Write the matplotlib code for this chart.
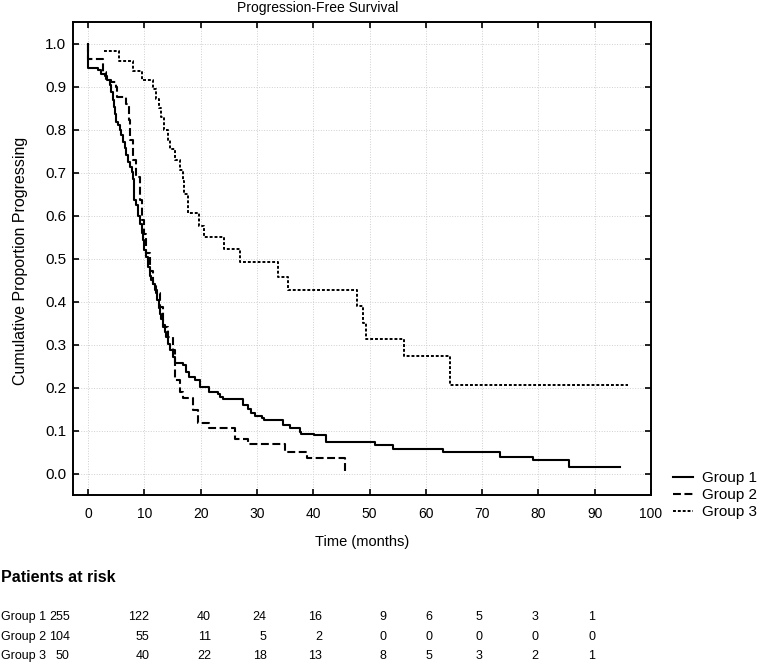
import matplotlib
matplotlib.use("Agg")
import matplotlib.pyplot as plt
import matplotlib.transforms as mtransforms

plt.rcParams['font.family'] = ['Liberation Sans', 'DejaVu Sans']

# ---------------- data ----------------
g1_time = [0, 0, 1.75, 2.3, 2.9, 3.4, 3.8, 4.1, 4.4, 4.6, 4.8, 5.0, 5.3, 5.6, 5.9, 6.2,
           6.5, 6.8, 7.1, 7.4, 7.7, 7.9, 8.05, 8.1, 8.55, 8.9, 9.15, 9.5, 9.74, 10.0,
           10.2, 10.6, 11.0, 11.2, 11.5, 11.8, 12.2, 12.5, 12.7, 13.0, 13.3, 13.6,
           13.9, 14.2, 14.6, 15.1, 15.5, 16.8, 17.4, 17.9, 18.9, 19.8, 21.5, 23.1,
           23.4, 23.9, 27.5, 28.4, 29.0, 29.6, 30.8, 31.3, 34.7, 35.8, 37.6, 37.9,
           40.2, 42.2, 50.9, 54.1, 63.0, 73.2, 79.1, 85.5, 94.5]
g1_surv = [1.0, 0.943, 0.938, 0.930, 0.925, 0.915, 0.903, 0.888, 0.869, 0.853, 0.837,
           0.818, 0.810, 0.798, 0.787, 0.771, 0.756, 0.740, 0.725, 0.713, 0.702, 0.686,
           0.660, 0.636, 0.624, 0.600, 0.581, 0.560, 0.543, 0.520, 0.504, 0.480, 0.460,
           0.450, 0.440, 0.426, 0.403, 0.385, 0.372, 0.360, 0.345, 0.330, 0.318, 0.302,
           0.287, 0.271, 0.256, 0.252, 0.236, 0.225, 0.217, 0.201, 0.190, 0.186, 0.178,
           0.174, 0.159, 0.151, 0.140, 0.133, 0.128, 0.124, 0.112, 0.105, 0.097, 0.093,
           0.089, 0.074, 0.066, 0.058, 0.050, 0.039, 0.031, 0.015, 0.015]

g2_time = [0, 0, 2.6, 3.2, 4.1, 5.0, 5.1, 6.8, 7.25, 7.5, 7.96, 8.56, 9.15, 9.6, 10.0,
           10.3, 10.9, 11.5, 12.1, 12.7, 13.3, 14.2, 15.1, 15.4, 16.3, 16.8, 18.6,
           19.5, 21.5, 26.0, 28.4, 34.9, 38.9, 45.7]
g2_surv = [1.0, 0.963, 0.934, 0.915, 0.910, 0.899, 0.876, 0.860, 0.822, 0.775, 0.729,
           0.690, 0.636, 0.589, 0.558, 0.512, 0.470, 0.440, 0.419, 0.387, 0.341, 0.318,
           0.287, 0.217, 0.190, 0.176, 0.147, 0.118, 0.106, 0.081, 0.068, 0.050, 0.035,
           0.0]

g3_time = [2.8, 5.5, 8.0, 9.6, 11.6, 12.1, 12.6, 13.0, 13.4, 14.2, 14.6, 15.5, 16.4,
           16.9, 17.0, 17.8, 19.6, 20.6, 24.2, 27.0, 33.8, 35.5, 47.7, 48.8, 49.4,
           56.1, 64.3, 95.9]
g3_surv = [0.983, 0.959, 0.936, 0.915, 0.894, 0.872, 0.850, 0.830, 0.800, 0.775, 0.755,
           0.730, 0.705, 0.680, 0.650, 0.605, 0.575, 0.549, 0.522, 0.491, 0.457, 0.426,
           0.389, 0.349, 0.312, 0.274, 0.205, 0.205]

group_labels = ["Group 1", "Group 2", "Group 3"]
x_ticks = [0, 10, 20, 30, 40, 50, 60, 70, 80, 90, 100]
y_ticks = [0.0, 0.1, 0.2, 0.3, 0.4, 0.5, 0.6, 0.7, 0.8, 0.9, 1.0]

risk_g1 = [255, 122, 40, 24, 16, 9, 6, 5, 3, 1]
risk_g2 = [104, 55, 11, 5, 2, 0, 0, 0, 0, 0]
risk_g3 = [50, 40, 22, 18, 13, 8, 5, 3, 2, 1]

# layout of the at-risk table (right edges of columns, in time units)
risk_col_x = [-3.3, 10.9, 21.8, 31.7, 41.6, 53.0, 61.2, 70.1, 80.0, 90.1]

# ---------------- figure ----------------
W, H = 771, 666
fig = plt.figure(figsize=(W / 100, H / 100), dpi=100)
ax = fig.add_axes([73 / W, 1 - 495 / H, (651 - 73) / W, (495 - 22) / H])

ax.plot(g1_time, g1_surv, drawstyle='steps-post', color='black', lw=1.5,
        linestyle='-', label=group_labels[0])
ax.plot(g2_time, g2_surv, drawstyle='steps-post', color='black', lw=1.5,
        linestyle=(0, (3.8, 1.7)), label=group_labels[1])
ax.plot(g3_time, g3_surv, drawstyle='steps-post', color='black', lw=1.4,
        linestyle=(0, (1.5, 1.0)), label=group_labels[2])

ax.set_xlim(-2.7, 100)
ax.set_ylim(-0.05, 1.05)
ax.set_xticks(x_ticks)
ax.set_yticks(y_ticks)
ax.set_xticklabels([str(v) for v in x_ticks], fontsize=10)
ax.set_yticklabels([f"{v:.1f}" for v in y_ticks], fontsize=11)
ax.tick_params(direction='in', top=True, right=True, labeltop=False, labelright=False,
               length=4, width=1.2, color='black')
ax.tick_params(axis='x', pad=9)
ax.tick_params(axis='y', pad=5)
for s in ax.spines.values():
    s.set_linewidth(1.4)
    s.set_color('black')
ax.grid(True, color='#cfcfcf', linestyle=':', linewidth=0.7)
ax.set_axisbelow(True)

ax.set_xlabel("Time (months)", fontsize=10.5, va='center')
ax.xaxis.set_label_coords(0.5, (495 - 542) / 473)
ax.set_ylabel("Cumulative Proportion Progressing", fontsize=11.5, va='center')
ax.yaxis.set_label_coords((21 - 73) / 578, (495 - 261) / 473)

fig.text(318 / W, 1 - 8 / H, "Progression-Free Survival", fontsize=10,
         ha='center', va='center')

fig.legend(loc='upper left', bbox_to_anchor=(673 / W, 1 - 471 / H), frameon=False,
           fontsize=11, handlelength=1.3, handletextpad=0.6, labelspacing=0.2,
           borderpad=0, borderaxespad=0)

# ---------------- at-risk table ----------------
trans = mtransforms.blended_transform_factory(ax.transData, fig.transFigure)
fig.text(1 / W, 1 - 578 / H, "Patients at risk", fontsize=11.5, fontweight='bold',
         ha='left', va='center')
rows = [risk_g1, risk_g2, risk_g3]
row_y = [617, 637, 656]
for lab, vals, yy in zip(group_labels, rows, row_y):
    fig.text(1 / W, 1 - yy / H, lab, fontsize=9, ha='left', va='center')
    for xv, v in zip(risk_col_x, vals):
        fig.text(xv, 1 - yy / H, str(v), fontsize=9, ha='right', va='center',
                 transform=trans)

fig.savefig("out.png", dpi=100)
